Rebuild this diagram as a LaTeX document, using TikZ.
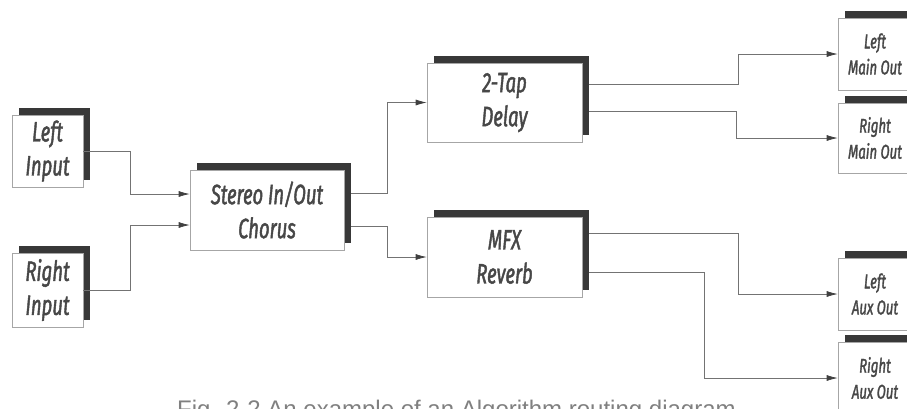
\documentclass[tikz,border=0pt]{standalone}
\usepackage{fontspec}
\setmainfont{Liberation Sans}
\newfontfamily\boxfont[FakeStretch=0.66,FakeBold=1.5]{Fira Sans}
\usetikzlibrary{shadows,arrows.meta}
\tikzset{
  box/.style={draw=black!35, fill=white, line width=0.6pt, inner sep=0pt, align=center,
    font=\boxfont\itshape\fontsize{28}{34}\selectfont, text=black!72,
    general shadow={fill=black!78, shadow xshift=7pt, shadow yshift=7pt}},
  outbox/.style={box, minimum width=74pt, font=\boxfont\itshape\fontsize{20}{26}\selectfont},
  conn/.style={draw=black!55, line width=0.7pt, -{Latex[length=11pt,width=6pt,color=black!75]}}
}
\begin{document}
\begin{tikzpicture}[x=1pt,y=-1pt]
\useasboundingbox (0,0) rectangle (907,408);
\clip (0,0) rectangle (907,408);
\node[box, minimum width=71pt, minimum height=72pt] (LI) at (47.5,151) {Left\\Input};
\node[box, minimum width=71pt, minimum height=74pt] (RI) at (47.5,290) {Right\\Input};
\node[box, minimum width=154pt, minimum height=80pt] (CH) at (267,210) {Stereo In/Out\\Chorus};
\node[box, minimum width=155pt, minimum height=79pt] (DL) at (504.5,102.5) {2-Tap\\Delay};
\node[box, minimum width=155pt, minimum height=80pt] (MX) at (504.5,257) {MFX\\Reverb};
\node[outbox, minimum height=72pt] (LMO) at (875,54) {Left\\Main Out};
\node[outbox, minimum height=70pt] (RMO) at (875,138) {Right\\Main Out};
\node[outbox, minimum height=72pt] (LAO) at (875,294) {Left\\Aux Out};
\node[outbox, minimum height=72pt] (RAO) at (875,378) {Right\\Aux Out};
\draw[conn] (LI.east) -- ++(47,0) |- ([yshift=16pt]CH.west);
\draw[conn] (RI.east) -- ++(47,0) |- ([yshift=-15pt]CH.west);
\draw[conn] ([xshift=7pt,yshift=17pt]CH.east) -- ++(36,0) |- (DL.west);
\draw[conn] ([xshift=7pt,yshift=-16pt]CH.east) -- ++(36,0) |- (MX.west);
\draw[conn] ([xshift=7pt,yshift=18.5pt]DL.east) -- ++(149,0) |- (LMO.west);
\draw[conn] ([xshift=7pt,yshift=-8.5pt]DL.east) -- ++(147,0) |- (RMO.west);
\draw[conn] ([xshift=7pt,yshift=24pt]MX.east) -- ++(149,0) |- (LAO.west);
\draw[conn] ([xshift=7pt,yshift=-15pt]MX.east) -- ++(115,0) |- (RAO.west);
\node[anchor=base west, font=\fontsize{24}{28}\selectfont, text=black!50, inner sep=0pt] (cap) at (177,417) {Fig. 2-2 An example of an Algorithm routing diagram};
\end{tikzpicture}
\end{document}
